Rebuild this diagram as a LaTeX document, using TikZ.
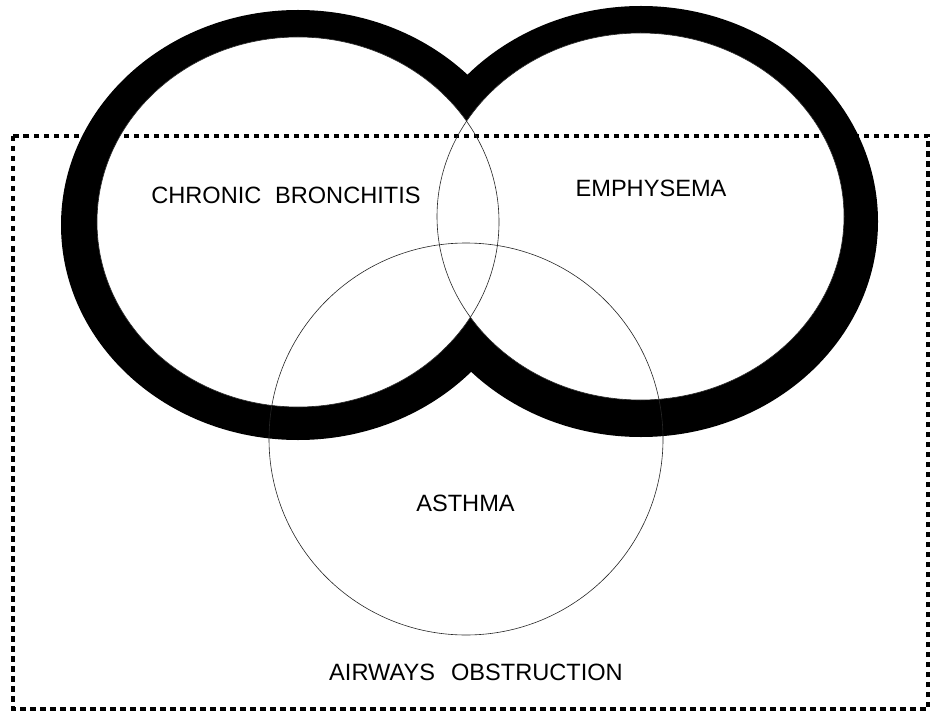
\documentclass[tikz,border=0pt]{standalone}
\usepackage{fontspec}
\setmainfont{Liberation Sans}
\begin{document}
\begin{tikzpicture}[x=1pt, y=-1pt,
   disease/.style={font=\fontsize{23.6}{28}\selectfont, inner sep=0pt},
   thin line/.style={draw=black!85, line width=0.6pt},
   box line/.style={draw=black, line width=3.4pt, dash pattern=on 5.5pt off 4.5pt}]
\useasboundingbox (0,0) rectangle (936,711);
% thick outer band of the two big circles
\fill[black] (298,225) ellipse [x radius=237pt, y radius=215pt];
\fill[black] (641,221.5) ellipse [x radius=237pt, y radius=215.5pt];
\fill[white] (298,222) ellipse [x radius=201pt, y radius=185pt];
\fill[white] (640.5,216.5) ellipse [x radius=203.5pt, y radius=183.5pt];
% airways obstruction box
\draw[box line] (13,136) rectangle (928,709);
% thin circles
\draw[thin line] (298,222) ellipse [x radius=201pt, y radius=185pt];
\draw[thin line] (640.5,216.5) ellipse [x radius=203.5pt, y radius=183.5pt];
\draw[thin line] (466,439) ellipse [x radius=197pt, y radius=196pt];
% labels
\node[disease] (bronchitis) at (286,195) {CHRONIC \hspace{0.3em}BRONCHITIS};
\node[disease] (emphysema) at (651,188) {EMPHYSEMA};
\node[disease] (asthma) at (465.5,503) {ASTHMA};
\node[disease] (airways) at (476,672) {AIRWAYS \hspace{0.4em}OBSTRUCTION};
\end{tikzpicture}
\end{document}
